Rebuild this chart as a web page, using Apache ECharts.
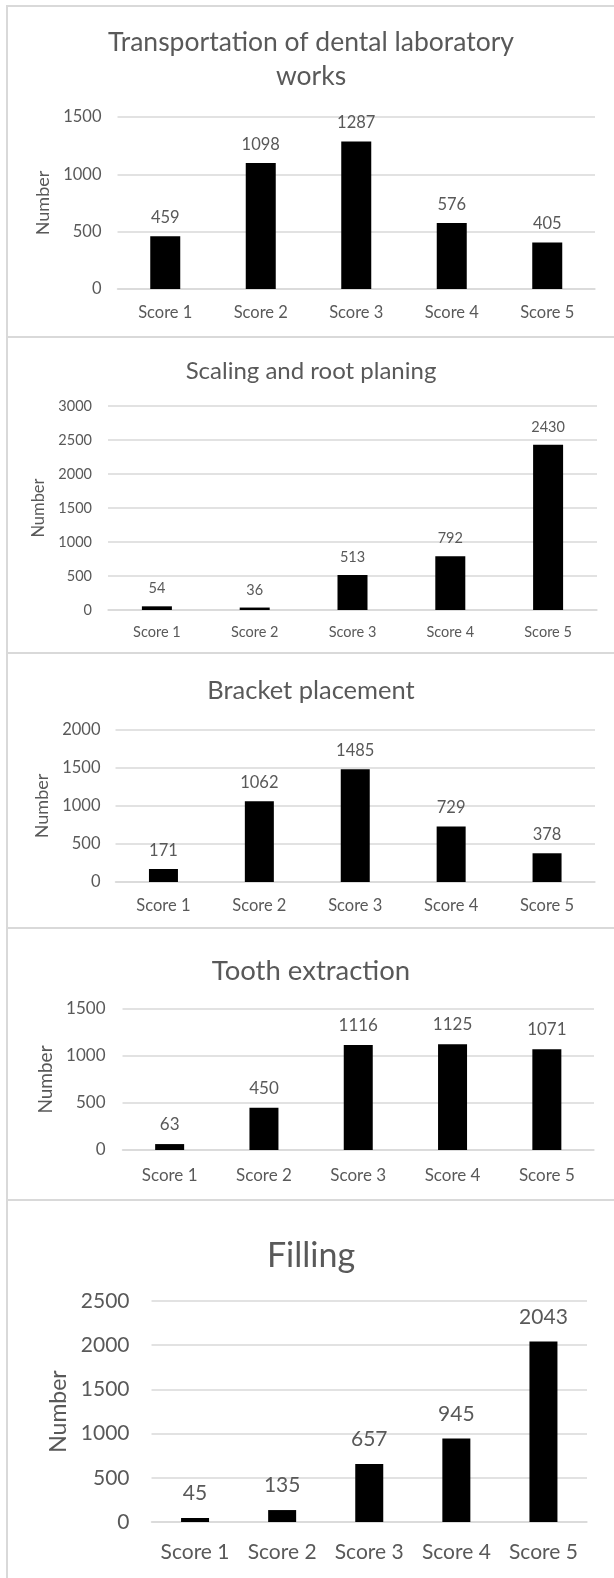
<!DOCTYPE html>
<html>
<head>
<meta charset="utf-8">
<title>Scores by procedure</title>
<script src="https://cdn.jsdelivr.net/npm/echarts@6/dist/echarts.min.js"></script>
<style>
  html, body { margin: 0; padding: 0; background: #ffffff; }
  #chart { width: 614px; height: 1578px; }
</style>
</head>
<body>
<div id="chart"></div>
<script>
// Score categories shared by every panel
const categories = ['Score 1', 'Score 2', 'Score 3', 'Score 4', 'Score 5'];

// Panel titles
const titles = [
  'Transportation of dental laboratory\nworks',
  'Scaling and root planing',
  'Bracket placement',
  'Tooth extraction',
  'Filling'
];

// Counts per score for each procedure
const transportValues = [459, 1098, 1287, 576, 405];
const scalingValues   = [54, 36, 513, 792, 2430];
const bracketValues   = [171, 1062, 1485, 729, 378];
const extractionValues = [63, 450, 1116, 1125, 1071];
const fillingValues   = [45, 135, 657, 945, 2043];

// Value-axis ranges
const axisMax = [1500, 3000, 2000, 1500, 2500];
const axisStep = [500, 500, 500, 500, 500];

const seriesValues = [transportValues, scalingValues, bracketValues, extractionValues, fillingValues];

const FONT = 'Lato, "Open Sans", sans-serif';
const TEXT = '#595959';
const LINE = '#d9d9d9';

// Panel layout: plot box, fonts and gaps
const panels = [
  { left: 117.5, right: 19, top: 117, height: 172, fs: 16.5, tfs: 26.5, titleTop: 20, lm: 16, xm: 15, barW: 30, nameGap: 51, nfs: 18, lblDist: 10 },
  { left: 108,   right: 17, top: 406, height: 204, fs: 14.5, tfs: 24, titleTop: 351, lm: 16, xm: 15, barW: 30, nameGap: 50, nfs: 16.5, lblDist: 10 },
  { left: 115.5, right: 19, top: 730, height: 152, fs: 16.5, tfs: 25.5, titleTop: 669, lm: 15, xm: 15, barW: 29, nameGap: 49, nfs: 18, lblDist: 10 },
  { left: 122.5, right: 20, top: 1009, height: 141, fs: 17, tfs: 27.5, titleTop: 948, lm: 17, xm: 17, barW: 29, nameGap: 57, nfs: 19, lblDist: 11 },
  { left: 151.5, right: 27, top: 1301, height: 221, fs: 21, tfs: 34, titleTop: 1229, lm: 22, xm: 20, barW: 28, nameGap: 75, nfs: 23, lblDist: 14 }
];

// Horizontal centre of the panel titles
const TITLE_X = 306;

const option = {
  backgroundColor: '#ffffff',
  animation: false,
  title: panels.map((p, i) => ({
    text: titles[i],
    left: TITLE_X,
    top: p.titleTop,
    textAlign: 'center',
    textStyle: {
      fontFamily: FONT, fontWeight: 'normal', fontSize: p.tfs,
      color: TEXT, lineHeight: p.tfs * 1.3
    }
  })),
  grid: panels.map(p => ({
    left: p.left, right: p.right, top: p.top, height: p.height, containLabel: false
  })),
  xAxis: panels.map((p, i) => ({
    type: 'category',
    gridIndex: i,
    data: categories,
    axisLine: { lineStyle: { color: LINE, width: 1.5 } },
    axisTick: { show: false },
    axisLabel: { interval: 0, color: TEXT, fontFamily: FONT, fontSize: p.fs, margin: p.xm }
  })),
  yAxis: panels.map((p, i) => ({
    type: 'value',
    gridIndex: i,
    min: 0,
    max: axisMax[i],
    interval: axisStep[i],
    name: 'Number',
    nameLocation: 'middle',
    nameGap: p.nameGap,
    nameTextStyle: { color: TEXT, fontFamily: FONT, fontSize: p.nfs },
    axisLine: { show: false },
    axisTick: { show: false },
    splitLine: { lineStyle: { color: LINE, width: 1.5 } },
    axisLabel: {
      color: TEXT, fontFamily: FONT, fontSize: p.fs, margin: p.lm,
      formatter: v => String(v)
    }
  })),
  series: panels.map((p, i) => ({
    type: 'bar',
    xAxisIndex: i,
    yAxisIndex: i,
    data: seriesValues[i],
    barWidth: p.barW,
    itemStyle: { color: '#000000' },
    label: {
      show: true,
      position: 'top',
      distance: p.lblDist,
      color: TEXT,
      fontFamily: FONT,
      fontSize: p.fs
    }
  })),
  // Panel frames
  graphic: [
    { type: 'line', shape: { x1: 7, y1: 5, x2: 7, y2: 1578 }, style: { stroke: LINE, lineWidth: 2 } },
    ...[6, 337, 653, 928, 1200].map(y => ({
      type: 'line', shape: { x1: 6, y1: y, x2: 614, y2: y }, style: { stroke: LINE, lineWidth: 2 }
    }))
  ]
};

const chart = echarts.init(document.getElementById('chart'), null, { renderer: 'canvas' });
chart.setOption(option);
</script>
</body>
</html>
